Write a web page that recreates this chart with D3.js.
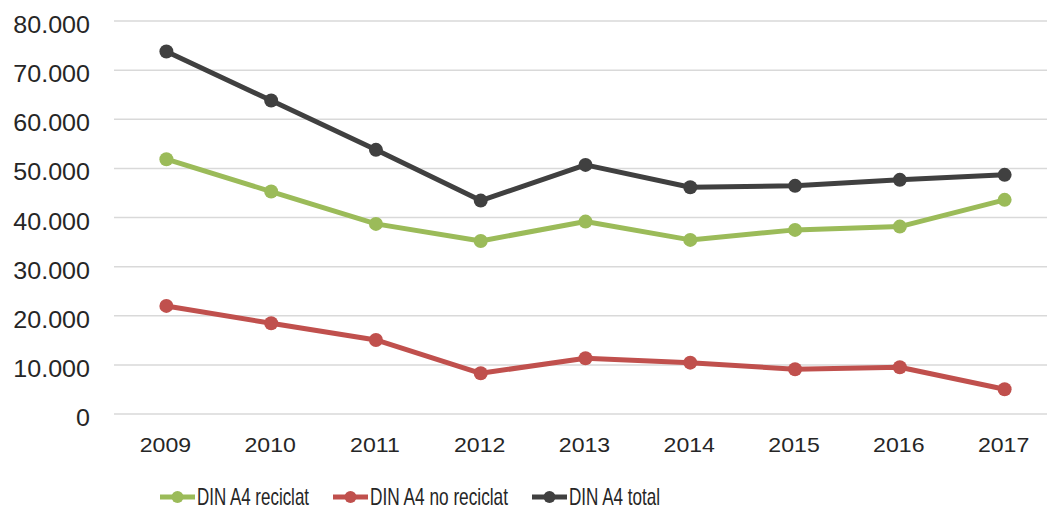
<!DOCTYPE html>
<html>
<head>
<meta charset="utf-8">
<script src="https://cdn.jsdelivr.net/npm/d3@7"></script>
<style>
  body { margin: 0; background: #fff; }
  text { font-family: "Liberation Sans", Arial, sans-serif; fill: #262626; }
</style>
</head>
<body>
<div id="chart"></div>
<script>
// values
var years = ["2009", "2010", "2011", "2012", "2013", "2014", "2015", "2016", "2017"];
var reciclat   = [51870, 45280, 38700, 35230, 39170, 35440, 37480, 38150, 43590];
var noReciclat = [22000, 18470, 15070, 8290, 11340, 10450, 9100, 9510, 5030];
var total      = [73790, 63810, 53770, 43440, 50710, 46170, 46440, 47660, 48680];
var yTicks = [0, 10000, 20000, 30000, 40000, 50000, 60000, 70000, 80000];

var seriesNames = ["DIN A4 reciclat", "DIN A4 no reciclat", "DIN A4 total"];
var seriesColors = ["#9bbb59", "#c0504d", "#404040"];

var width = 1047, height = 512;
var margin = { left: 114, right: -10, top: 21, bottom: 98 };

var svg = d3.select("#chart").append("svg")
    .attr("width", width)
    .attr("height", height);

var x = d3.scaleBand()
    .domain(years)
    .range([margin.left, width - margin.right]);

var y = d3.scaleLinear()
    .domain([0, 80000])
    .range([height - margin.bottom, margin.top]);

var fmt = d3.formatLocale({ decimal: ",", thousands: ".", grouping: [3], currency: ["", "€"] }).format(",");

// gridlines
svg.append("g")
    .selectAll("line")
    .data(yTicks)
    .enter().append("line")
    .attr("x1", margin.left)
    .attr("x2", width - margin.right)
    .attr("y1", d => y(d))
    .attr("y2", d => y(d))
    .attr("stroke", "#d9d9d9")
    .attr("stroke-width", 1.5);

// y labels
svg.append("g")
    .selectAll("text")
    .data(yTicks)
    .enter().append("text")
    .attr("x", 90)
    .attr("y", d => y(d) + 12)
    .attr("text-anchor", "end")
    .style("font-size", "23px")
    .text(d => fmt(d))
    .each(function (d) {
        // the picture's digits are a bit wider than Arial's
        var w = this.getComputedTextLength();
        d3.select(this).attr("textLength", w * 1.09).attr("lengthAdjust", "spacingAndGlyphs");
    });

// x labels
svg.append("g")
    .selectAll("text")
    .data(years)
    .enter().append("text")
    .attr("x", d => x(d) + x.bandwidth() / 2 - 1)
    .attr("y", 451.5)
    .attr("text-anchor", "middle")
    .style("font-size", "21px")
    .text(d => d)
    .each(function () {
        var w = this.getComputedTextLength();
        d3.select(this).attr("textLength", w * 1.1).attr("lengthAdjust", "spacingAndGlyphs");
    });

var allSeries = [reciclat, noReciclat, total];

var line = d3.line()
    .x((d, i) => x(years[i]) + x.bandwidth() / 2)
    .y(d => y(d));

allSeries.forEach(function (values, k) {
    var g = svg.append("g");
    g.append("path")
        .datum(values)
        .attr("d", line)
        .attr("fill", "none")
        .attr("stroke", seriesColors[k])
        .attr("stroke-width", 5)
        .attr("stroke-linejoin", "round");
    g.selectAll("circle")
        .data(values)
        .enter().append("circle")
        .attr("cx", (d, i) => x(years[i]) + x.bandwidth() / 2)
        .attr("cy", d => y(d))
        .attr("r", 7)
        .attr("fill", seriesColors[k]);
});

// legend
var legendX = [160, 333, 532];
var legendW = [112, 138, 91];
var legend = svg.append("g")
    .selectAll("g")
    .data(seriesNames)
    .enter().append("g")
    .attr("transform", (d, i) => "translate(" + legendX[i] + ",497)");

legend.append("line")
    .attr("x1", 0).attr("x2", 35)
    .attr("stroke", (d, i) => seriesColors[i])
    .attr("stroke-width", 5);
legend.append("circle")
    .attr("cx", 17.5).attr("r", 6)
    .attr("fill", (d, i) => seriesColors[i]);
legend.append("text")
    .attr("x", 37)
    .attr("y", 8)
    .style("font-size", "24px")
    .attr("textLength", (d, i) => legendW[i])
    .attr("lengthAdjust", "spacingAndGlyphs")
    .text(d => d);
</script>
</body>
</html>
